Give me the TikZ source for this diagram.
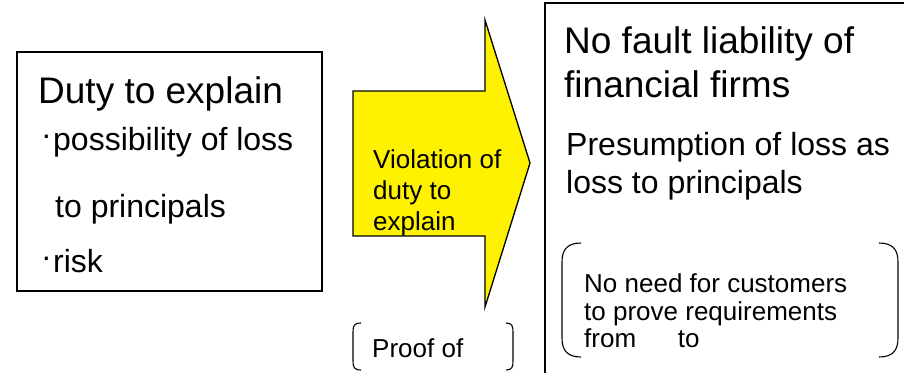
\documentclass[tikz,border=0pt]{standalone}
\usepackage{fontspec}
\setmainfont{Liberation Sans}
\begin{document}
\begin{tikzpicture}[x=1pt,y=-1pt,
  bigtxt/.style={anchor=base west,inner sep=0pt,font=\fontsize{37}{42}\selectfont},
  midtxt/.style={anchor=base west,inner sep=0pt,font=\fontsize{32}{36}\selectfont},
  smalltxt/.style={anchor=base west,inner sep=0pt,font=\fontsize{26}{30}\selectfont},
  frame/.style={draw=black,line width=1.3pt},
  brk/.style={draw=black,line width=1.1pt}]
\useasboundingbox (0,0) rectangle (904,372);
\clip (0,0) rectangle (904,372);
% left box
\draw[frame] (17,52) rectangle (322,291);
\node[bigtxt] (duty) at (38,103) {Duty to explain};
\node[midtxt] (d1) at (41,145) {\textperiodcentered};
\node[midtxt] (b1) at (53,150) {possibility of loss};
\node[midtxt] (b1b) at (55,217) {to principals};
\node[midtxt] (d2) at (41,267) {\textperiodcentered};
\node[midtxt] (b2) at (53,272) {risk};
% arrow
\draw[frame,fill=yellow] (353,91) -- (485,91) -- (485,20) -- (530,163) -- (485,307) -- (485,236) -- (353,236) -- cycle;
\node[smalltxt] (v1) at (373,168) {Violation of};
\node[smalltxt] (v2) at (373,199) {duty to};
\node[smalltxt] (v3) at (373,230) {explain};
% proof bracket
\draw[brk] (361,323) .. controls (354,323) and (353,326) .. (353,332) -- (353,361) .. controls (353,367) and (354,370) .. (361,370);
\draw[brk] (506,323) .. controls (512,323) and (513,326) .. (513,332) -- (513,361) .. controls (513,367) and (512,370) .. (506,370);
\node[smalltxt] (proof) at (372,357) {Proof of};
% right box
\draw[frame] (545,3) rectangle (920,390);
\node[bigtxt] (nf1) at (564,53) {No fault liability of};
\node[bigtxt] (nf2) at (564,97) {financial firms};
\node[midtxt] (pr1) at (566,155) {Presumption of loss as};
\node[midtxt] (pr2) at (566,193) {loss to principals};
% customers bracket
\draw[brk] (581,243) .. controls (567,243) and (562,250) .. (562,262) -- (562,338) .. controls (562,350) and (567,357) .. (581,357);
\draw[brk] (879,243) .. controls (893,243) and (898,250) .. (898,262) -- (898,338) .. controls (898,350) and (893,357) .. (879,357);
\node[smalltxt] (c1) at (584,292) {No need for customers};
\node[smalltxt] (c2) at (584,320) {to prove requirements};
\node[smalltxt] (c3) at (584,347) {from\hspace{1.6em}to};
\end{tikzpicture}
\end{document}
